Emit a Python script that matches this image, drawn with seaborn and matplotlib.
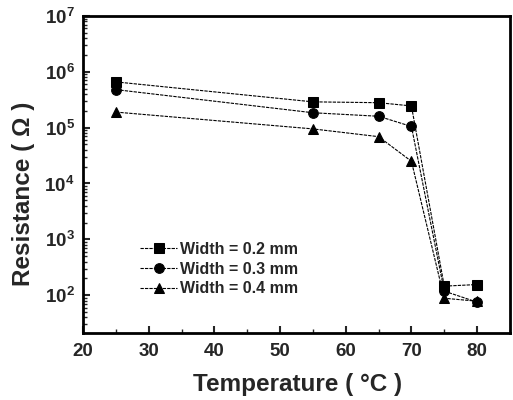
import matplotlib
matplotlib.use("Agg")
import matplotlib.pyplot as plt
import seaborn as sns
import pandas as pd
from matplotlib.ticker import LogLocator, NullFormatter, MultipleLocator

temperature = [25, 55, 65, 70, 75, 80]
r_w02 = [6.6e5, 2.9e5, 2.8e5, 2.45e5, 145, 155]
r_w03 = [4.8e5, 1.85e5, 1.6e5, 1.05e5, 118, 75]
r_w04 = [1.9e5, 9.5e4, 6.9e4, 2.5e4, 88, 78]
labels = ["Width = 0.2 mm", "Width = 0.3 mm", "Width = 0.4 mm"]
markers = ["s", "o", "^"]

sns.set_style("ticks")
plt.rcParams['font.family'] = ['Liberation Sans', 'DejaVu Sans']
plt.rcParams['font.weight'] = 'bold'

fig = plt.figure(figsize=(5.13, 4.0), dpi=100)
ax = fig.add_axes([0.162, 0.1675, 0.832, 0.7925])

for vals, lab, mk in zip([r_w02, r_w03, r_w04], labels, markers):
    df = pd.DataFrame({"T": temperature, "R": vals})
    sns.lineplot(data=df, x="T", y="R", ax=ax, color="black", marker=mk,
                 markersize=7, markeredgecolor="black", linewidth=0.8,
                 linestyle=(0, (3, 1)), label=lab)

ax.set_yscale("log")
ax.set_ylim(21, 1e7)
ax.set_xlim(20, 85)
ax.xaxis.set_major_locator(MultipleLocator(10))
ax.xaxis.set_minor_locator(MultipleLocator(5))
ax.yaxis.set_major_locator(LogLocator(base=10, numticks=10))
ax.yaxis.set_minor_locator(LogLocator(base=10, subs=range(2, 10), numticks=20))
ax.yaxis.set_minor_formatter(NullFormatter())
ax.tick_params(axis="x", which="major", pad=7)
ax.tick_params(axis="y", which="major", pad=6)
ax.tick_params(axis="both", which="major", direction="in", length=5, width=1.5,
               labelsize=13.5, top=False, right=False)
ax.tick_params(axis="both", which="minor", direction="in", length=3, width=1,
               top=False, right=False)
for lbl in ax.get_xticklabels() + ax.get_yticklabels():
    lbl.set_fontweight("bold")
for s in ax.spines.values():
    s.set_linewidth(2)
    s.set_color("black")

ax.set_xlabel("Temperature ( °C )", fontsize=17.5, fontweight="bold")
ax.xaxis.set_label_coords(0.503, -0.125)
ax.set_ylabel("Resistance ( Ω )", fontsize=17.5, fontweight="bold")
ax.yaxis.set_label_coords(-0.112, 0.44)

leg = ax.legend(loc="lower left", bbox_to_anchor=(0.1, 0.07), frameon=False,
                prop={"weight": "bold", "size": 11.5}, handlelength=2.3,
                handletextpad=0.2, labelspacing=0.3)

fig.savefig("out.png", dpi=100)
